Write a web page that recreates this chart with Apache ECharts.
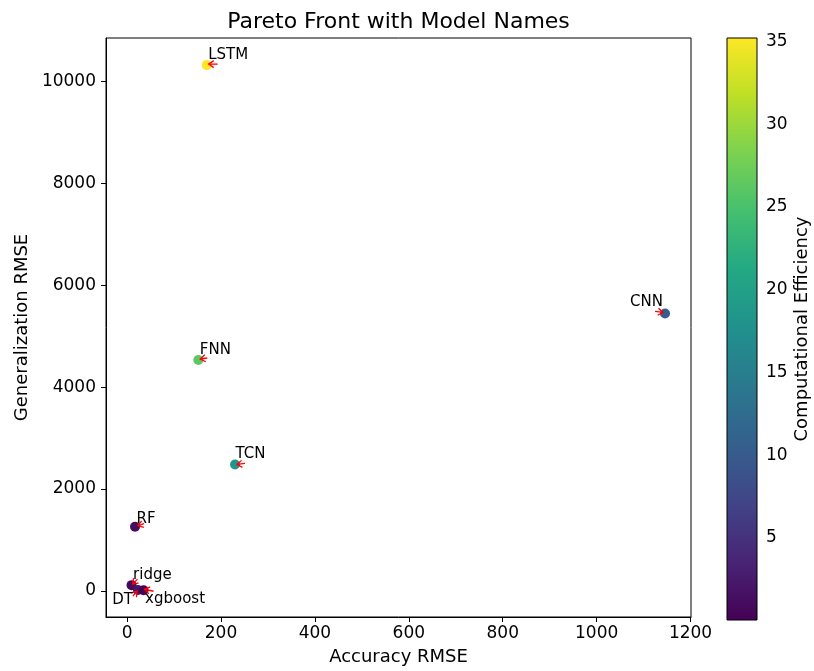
<!DOCTYPE html>
<html>
<head>
<meta charset="utf-8">
<script src="https://cdn.jsdelivr.net/npm/echarts@6/dist/echarts.min.js"></script>
<style>html,body{margin:0;padding:0;background:#fff}#c{width:814px;height:671px}</style>
</head>
<body>
<div id="c"></div>
<script>
// ---- data ----
const modelNames = ['LSTM', 'CNN', 'FNN', 'TCN', 'RF', 'ridge', 'DT', 'xgboost'];
const accuracyRMSE = [169.5, 1145.7, 151.6, 229.8, 16.8, 9.4, 23, 35];
const generalizationRMSE = [10318, 5446, 4532, 2483, 1261, 115, 18, 15];
const efficiency = [35.2, 10.3, 26.3, 18.2, 1.2, 0.8, 2.2, 0.05];
const xTicks = [0, 200, 400, 600, 800, 1000, 1200];
const yTicks = [0, 2000, 4000, 6000, 8000, 10000];
const cbTicks = [5, 10, 15, 20, 25, 30, 35];

// ---- styles ----
const FONT = 'DejaVu Sans';
const viridis = ['#440154', '#482475', '#414487', '#355f8d', '#2a788e', '#21918c',
                 '#22a884', '#44bf70', '#7ad151', '#bddf26', '#fde725'];
// label / arrow pixel offsets relative to each point
const labelLayout = {
  LSTM:    {dx: 1.5, dy: -10, align: 'left',  ax: 11, ay: -1, ex: 2, ey: -1},
  CNN:     {dx: -2,  dy: -11, align: 'right', ax: -10, ay: -2, ex: -2, ey: -1},
  FNN:     {dx: 1.5, dy: -10, align: 'left',  ax: 9, ay: -2, ex: 2, ey: -1},
  TCN:     {dx: 0.5, dy: -10, align: 'left',  ax: 10, ay: -1, ex: 2, ey: 0},
  RF:      {dx: 1.5, dy: -8,  align: 'left',  ax: 9, ay: -3, ex: 3, ey: -1},
  ridge:   {dx: 1.5, dy: -10, align: 'left',  ax: 6, ay: -6, ex: 1, ey: -1},
  DT:      {dx: -5,  dy: 10,  align: 'right', ax: -5, ay: 6, ex: -1, ey: 1},
  xgboost: {dx: 1.5, dy: 9,   align: 'left',  ax: 10, ay: 1, ex: 1, ey: -1}
};

const effMin = Math.min(...efficiency);
const effMax = Math.max(...efficiency);
const points = modelNames.map((n, i) => [accuracyRMSE[i], generalizationRMSE[i], efficiency[i]]);

function renderArrow(params, api) {
  const L = labelLayout[modelNames[params.dataIndex]];
  const p = api.coord([api.value(0), api.value(1)]);
  const sx = p[0] + L.ax, sy = p[1] + L.ay, ex = p[0] + L.ex, ey = p[1] + L.ey;
  const ang = Math.atan2(ey - sy, ex - sx);
  const hl = 5, hw = 3.5;
  const bx = ex - hl * Math.cos(ang), by = ey - hl * Math.sin(ang);
  const nx = -Math.sin(ang) * hw, ny = Math.cos(ang) * hw;
  return {
    type: 'group',
    children: [
      {type: 'line', shape: {x1: sx, y1: sy, x2: ex, y2: ey}, style: {stroke: '#ff0000', lineWidth: 1.3}},
      {type: 'polyline', shape: {points: [[bx + nx, by + ny], [ex, ey], [bx - nx, by - ny]]},
       style: {stroke: '#ff0000', fill: null, lineWidth: 1.3}}
    ]
  };
}
function renderLabel(params, api) {
  const name = modelNames[params.dataIndex];
  const L = labelLayout[name];
  const p = api.coord([api.value(0), api.value(1)]);
  return {
    type: 'text', x: p[0] + L.dx, y: p[1] + L.dy,
    style: {text: name, fontSize: 15, fontFamily: FONT, fill: '#000', align: L.align, verticalAlign: 'middle'}
  };
}
function renderColorbar(params, api) {
  const cs = params.coordSys;
  return {
    type: 'rect',
    shape: {x: cs.x, y: cs.y, width: cs.width, height: cs.height},
    style: {
      fill: new echarts.graphic.LinearGradient(0, 1, 0, 0,
        viridis.map((c, i) => ({offset: i / (viridis.length - 1), color: c}))),
      stroke: '#000', lineWidth: 1
    }
  };
}

const plainNum = v => String(v);
const axisCommon = {
  type: 'value',
  splitLine: {show: false},
  axisLine: {show: true, onZero: false, lineStyle: {color: '#000', width: 1}},
  nameLocation: 'middle',
  nameTextStyle: {fontSize: 18, color: '#000', fontFamily: FONT}
};

const chart = echarts.init(document.getElementById('c'), null, {renderer: 'canvas'});
chart.setOption({
  animation: false,
  backgroundColor: '#fff',
  title: {
    text: 'Pareto Front with Model Names',
    left: 398.5, textAlign: 'center', top: 11, padding: 0,
    textStyle: {fontSize: 22, fontWeight: 'normal', color: '#000', fontFamily: FONT}
  },
  grid: [
    {left: 106, top: 38, width: 585, height: 582, show: true, borderColor: '#000', borderWidth: 1, containLabel: false},
    {left: 727, top: 38, width: 30, height: 582, show: false, containLabel: false}
  ],
  xAxis: [
    Object.assign({}, axisCommon, {
      gridIndex: 0, min: -45, max: 1201,
      name: 'Accuracy RMSE', nameGap: 31,
      axisTick: {show: true, customValues: xTicks, length: 5, lineStyle: {color: '#000'}},
      axisLabel: {customValues: xTicks, formatter: plainNum, fontSize: 17, color: '#000', margin: 8, fontFamily: FONT}
    }),
    {type: 'value', gridIndex: 1, min: 0, max: 1, show: false}
  ],
  yAxis: [
    Object.assign({}, axisCommon, {
      gridIndex: 0, min: -510, max: 10850,
      name: 'Generalization RMSE', nameGap: 69, nameRotate: 90,
      axisTick: {show: true, customValues: yTicks, length: 5, lineStyle: {color: '#000'}},
      axisLabel: {customValues: yTicks, formatter: plainNum, fontSize: 17, color: '#000', margin: 10, fontFamily: FONT}
    }),
    Object.assign({}, axisCommon, {
      gridIndex: 1, position: 'right', min: effMin, max: effMax,
      axisLine: {show: false},
      name: 'Computational Efficiency', nameGap: 36, nameRotate: 90,
      axisTick: {show: true, customValues: cbTicks, length: 5, lineStyle: {color: '#000'}},
      axisLabel: {customValues: cbTicks, formatter: plainNum, fontSize: 17, color: '#000', margin: 9, fontFamily: FONT}
    })
  ],
  visualMap: {
    show: false, type: 'continuous', min: effMin, max: effMax, dimension: 2, seriesIndex: 0,
    inRange: {color: viridis}
  },
  series: [
    {
      type: 'scatter', xAxisIndex: 0, yAxisIndex: 0, data: points,
      symbol: 'circle', symbolSize: 10, z: 2, itemStyle: {opacity: 1}
    },
    {
      type: 'custom', xAxisIndex: 0, yAxisIndex: 0, data: points,
      renderItem: renderArrow, z: 3, silent: true
    },
    {
      type: 'custom', xAxisIndex: 0, yAxisIndex: 0, data: points,
      renderItem: renderLabel, z: 4, silent: true
    },
    {
      type: 'custom', xAxisIndex: 1, yAxisIndex: 1, data: [[0.5, effMin]],
      renderItem: renderColorbar, z: 1, silent: true
    }
  ]
});
</script>
</body>
</html>
